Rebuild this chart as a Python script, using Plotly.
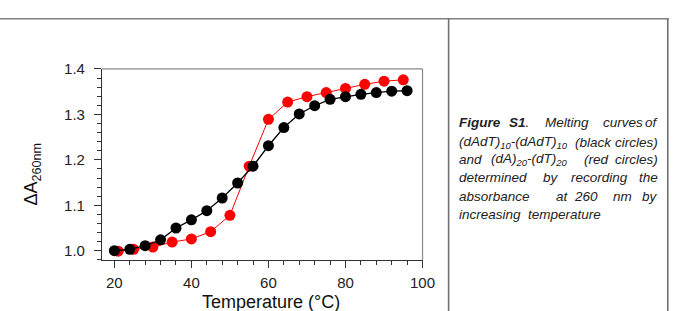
import plotly.graph_objects as go

# ---- data ----
black_temp = [20, 24, 28, 32, 36, 40, 44, 48, 52, 56, 60, 64, 68, 72, 76, 80, 84, 88, 92, 96]
black_abs = [1.000, 1.003, 1.011, 1.024, 1.050, 1.068, 1.088, 1.116, 1.149, 1.186,
             1.231, 1.271, 1.301, 1.319, 1.333, 1.339, 1.344, 1.348, 1.351, 1.352]
red_temp = [21, 25, 30, 35, 40, 45, 50, 55, 60, 65, 70, 75, 80, 85, 90, 95]
red_abs = [0.999, 1.003, 1.008, 1.019, 1.026, 1.042, 1.078, 1.186,
           1.289, 1.327, 1.339, 1.348, 1.357, 1.366, 1.373, 1.376]
x_ticks = [20, 40, 60, 80, 100]
y_ticks = [1.0, 1.1, 1.2, 1.3, 1.4]
x_title = "Temperature (°C)"
y_title = "ΔA<sub>260nm</sub>"

caption_lines = [
    ["<b>Figure</b>", "<b>S1</b>.", "Melting", "curves", "of"],
    ["(dAdT)<sub>10</sub>-(dAdT)<sub>10</sub>", "(black", "circles)"],
    ["and", "(dA)<sub>20</sub>-(dT)<sub>20</sub>", "(red", "circles)"],
    ["determined", "by", "recording", "the"],
    ["absorbance", "at", "260", "nm", "by"],
    ["increasing  temperature"],
]

W, H = 685, 311
FONT = "Liberation Sans, Arial, sans-serif"


def px(x):
    return x / W


def py(y):
    return 1 - y / H


fig = go.Figure()
fig.add_trace(go.Scatter(
    x=red_temp, y=red_abs, mode="lines+markers",
    line=dict(color="#ff0000", width=1),
    marker=dict(color="#ff0000", size=11, line=dict(width=0)),
    showlegend=False, cliponaxis=False))
fig.add_trace(go.Scatter(
    x=black_temp, y=black_abs, mode="lines+markers",
    line=dict(color="#000000", width=1.3),
    marker=dict(color="#000000", size=11, line=dict(width=0)),
    showlegend=False, cliponaxis=False))

axis_common = dict(
    showgrid=False, zeroline=False, showline=True, linecolor="#333333", linewidth=1.2,
    ticks="outside", ticklen=7, tickwidth=1, tickcolor="#333333",
    tickfont=dict(family=FONT, size=15, color="#222222"),
)
fig.update_xaxes(
    range=[16.8, 100], tickvals=x_ticks, ticktext=[str(v) for v in x_ticks],
    domain=[px(104), px(430.7)], anchor="y", ticklabelstandoff=2,
    minor=dict(dtick=4, tick0=0, ticks="outside", ticklen=4, tickcolor="#333333"),
    **axis_common)
fig.update_yaxes(
    range=[0.98, 1.4], tickvals=y_ticks, ticktext=[f"{v:.1f}" for v in y_ticks],
    domain=[py(258.3), py(61.7)], anchor="x", ticklabelstandoff=6,
    minor=dict(dtick=0.02, tick0=0, ticks="outside", ticklen=4, tickcolor="#333333"),
    **axis_common)

shapes = [
    # plot frame top/right
    dict(type="line", xref="paper", yref="paper", x0=px(104), x1=px(430.7), y0=py(61.7), y1=py(61.7),
         line=dict(color="#8a8a8a", width=1.2)),
    dict(type="line", xref="paper", yref="paper", x0=px(430.7), x1=px(430.7), y0=py(61.7), y1=py(258.3),
         line=dict(color="#8a8a8a", width=1.2)),
    # table borders
    dict(type="line", xref="paper", yref="paper", x0=0, x1=px(682), y0=py(10), y1=py(10),
         line=dict(color="#808080", width=1.6)),
    dict(type="line", xref="paper", yref="paper", x0=px(457.3), x1=px(457.3), y0=py(10), y1=0,
         line=dict(color="#707070", width=1.6)),
    dict(type="line", xref="paper", yref="paper", x0=px(680.7), x1=px(680.7), y0=py(10), y1=0,
         line=dict(color="#707070", width=1.6)),
]

annotations = [
    dict(text=x_title, x=px(276), y=py(302), xref="paper", yref="paper", showarrow=False,
         font=dict(family=FONT, size=18, color="#111111"), xanchor="center", yanchor="middle"),
    dict(text=y_title, x=px(33), y=py(170), xref="paper", yref="paper", showarrow=False,
         textangle=-90, font=dict(family=FONT, size=18, color="#111111"),
         xanchor="center", yanchor="middle"),
]

# caption: justified lines; word left edges in px, last word right-aligned at the text margin
line_y = [117, 137, 155, 174, 193, 212]
word_x = [
    [466, 517, 553, 613, None],
    [466, 584, None],
    [466, 498, 593, None],
    [466, 551, 580, None],
    [466, 565, 583, 623, None],
    [466],
]
for words, xs, yy in zip(caption_lines, word_x, line_y):
    for w, xx in zip(words, xs):
        anchor = "right" if xx is None else "left"
        annotations.append(dict(text=f"<i>{w}</i>", x=px(672.5 if xx is None else xx), y=py(yy),
                                xref="paper", yref="paper", showarrow=False, xanchor=anchor,
                                yanchor="middle", font=dict(family=FONT, size=13.5, color="#222222")))

fig.update_layout(
    width=W, height=H, margin=dict(l=0, r=0, t=0, b=0),
    paper_bgcolor="white", plot_bgcolor="white",
    shapes=shapes, annotations=annotations,
)
fig.write_html("out.html")
